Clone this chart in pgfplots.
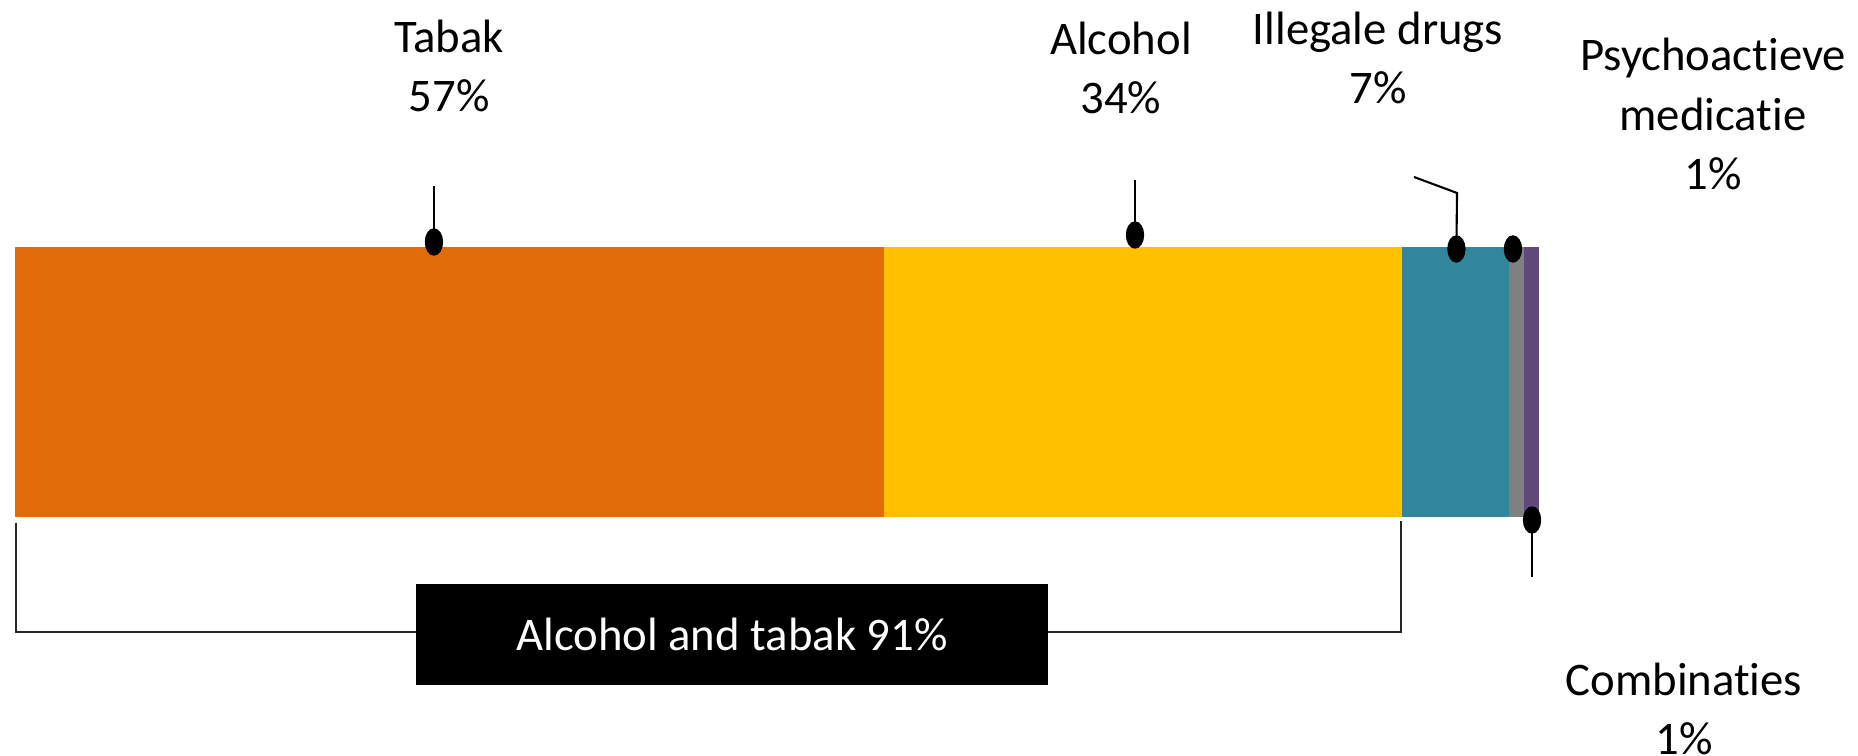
\documentclass[border=0pt]{standalone}
\usepackage{fontspec}
\setmainfont{Carlito}[Ligatures=NoCommon]
\usepackage{pgfplots}
\pgfplotsset{compat=1.18}
\definecolor{cTabak}{HTML}{E36C0A}
\definecolor{cAlc}{HTML}{FFC000}
\definecolor{cDrug}{HTML}{31859C}
\definecolor{cMed}{HTML}{808080}
\definecolor{cComb}{HTML}{604A7B}
\tikzset{lbl/.style={font=\fontsize{13.3}{16.8}\selectfont, align=center, inner sep=0pt}}
\pgfplotsset{base/.style={
  scale only axis, width=18.58cm, height=7.56cm,
  xmin=-0.984, xmax=120.93, ymin=0, ymax=756,
  axis line style={draw=none}, ticks=none,
  clip=false,
}}
\begin{document}
\begin{tikzpicture}
\begin{axis}[base, xbar stacked, bar width=270]
\path (rel axis cs:0,0) rectangle (rel axis cs:1,1);
\addplot[fill=cTabak, draw=none] coordinates {(57,374)};
\addplot[fill=cAlc, draw=none] coordinates {(34,374)};
\addplot[fill=cDrug, draw=none] coordinates {(7,374)};
\addplot[fill=cMed, draw=none] coordinates {(1,374)};
\addplot[fill=cComb, draw=none] coordinates {(1,374)};
\end{axis}
\begin{axis}[base]
% leader lines
\addplot[draw=black, line width=0.6pt, mark=none] coordinates {(27.49,570) (27.49,514)};
\addplot[draw=black, line width=0.6pt, mark=none] coordinates {(73.49,576) (73.49,521)};
\addplot[draw=black, line width=0.6pt, mark=none] coordinates {(91.80,579) (94.62,563) (94.58,507)};
\addplot[draw=black, line width=0.6pt, mark=none] coordinates {(99.54,236) (99.54,179)};
% dots
\addplot[only marks, mark=*, mark size=3.7pt, mark options={xscale=0.65, fill=black, draw=black}]
  coordinates {(27.49,514) (73.49,521) (94.58,507) (98.29,507) (99.54,236)};
% bracket
\addplot[draw=black!85, line width=0.8pt, mark=none] coordinates {(0.07,233) (0.07,124) (26.31,124)};
\addplot[draw=black!85, line width=0.8pt, mark=none] coordinates {(67.78,124) (90.94,124) (90.94,235)};
\fill[black] (axis cs:26.31,71) rectangle (axis cs:67.78,172);
\node[lbl, text=white] at (axis cs:47.05,121.5) {Alcohol and tabak 91\%};
% labels
\node[lbl] at (axis cs:28.48,690) {Tabak\\57\%};
\node[lbl] at (axis cs:72.57,688) {Alcohol\\34\%};
\node[lbl] at (axis cs:89.44,698) {Illegale drugs\\7\%};
\node[lbl] at (axis cs:111.42,642) {Psychoactieve\\medicatie\\1\%};
\node[lbl] at (axis cs:109.51,47) {Combinaties\\1\%};
\end{axis}
\end{tikzpicture}
\end{document}
